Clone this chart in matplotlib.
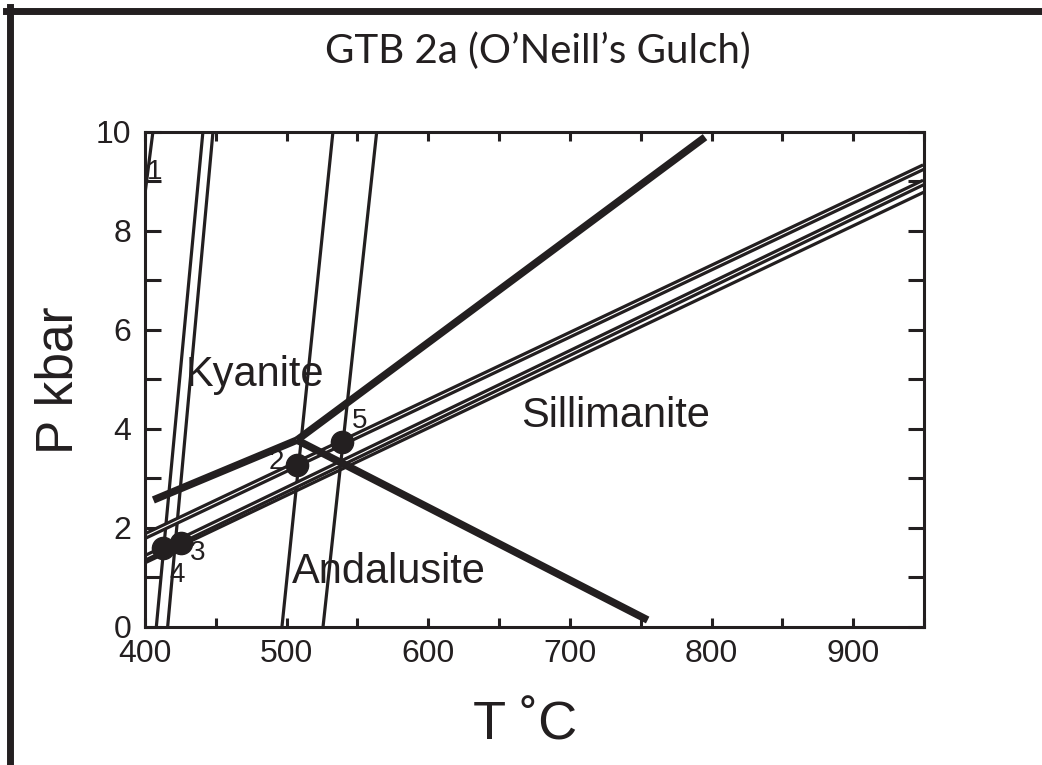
import matplotlib
matplotlib.use('Agg')
import matplotlib.pyplot as plt
from matplotlib.lines import Line2D
from matplotlib.ticker import MultipleLocator

INK = '#231f20'
SANS = ['Liberation Sans', 'DejaVu Sans']

# steep reactions: T (deg C) at P = 0 and P = 10 kbar
steep_P = [0.0, 10.0]
rA_T = [408.0, 440.9]
rB_T = [416.0, 448.0]
rC_T = [496.7, 532.7]
rD_T = [525.7, 563.6]

# reaction 1, cut by the left axis
r1_T = [400.0, 405.6]
r1_P = [8.75, 10.0]

# shallow reactions across the whole T range
flat_T = [400.0, 950.0]
rE_P = [1.83, 9.29]
rF_P = [1.39, 8.98]
rG_P = [1.29, 8.78]

# aluminosilicate triple point and its three boundaries
ky_and_T = [405.9, 507.3]
ky_and_P = [2.56, 3.77]
ky_sil_T = [507.3, 795.4]
ky_sil_P = [3.77, 9.89]
and_sil_T = [507.3, 754.9]
and_sil_P = [3.77, 0.135]

# intersection points
pt_T = [412.7, 425.4, 507.3, 539.1]
pt_P = [1.59, 1.69, 3.27, 3.73]

# reaction numbers
num_text = ['1', '2', '3', '4', '5']
num_T = [407.1, 493.0, 436.9, 422.8, 551.6]
num_P = [9.19, 3.33, 1.49, 1.04, 4.16]

# stability fields
field_names = ['Kyanite', 'Sillimanite', 'Andalusite']
field_T = [477.7, 732.5, 572.3]
field_P = [5.08, 4.26, 1.105]

fig = plt.figure(figsize=(10.42, 7.65), dpi=100)
ax = fig.add_axes([145 / 1042, 1 - 626.7 / 765, 779 / 1042, 495 / 765])

thin = dict(color=INK, lw=2.3, solid_capstyle='butt')
for t in (rA_T, rB_T, rC_T, rD_T):
    ax.plot(t, steep_P, **thin)
ax.plot(r1_T, r1_P, **thin)
ax.plot(flat_T, rG_P, **thin)

# double lines: black stroke with a hairline white core
for p in (rE_P, rF_P):
    ax.plot(flat_T, p, color=INK, lw=5.4, solid_capstyle='butt')
    ax.plot(flat_T, p, color='white', lw=0.8, solid_capstyle='butt')

thick = dict(color=INK, lw=5.4, solid_capstyle='butt')
ax.plot(ky_and_T, ky_and_P, **thick)
ax.plot(ky_sil_T, ky_sil_P, **thick)
ax.plot(and_sil_T, and_sil_P, **thick)

ax.plot(pt_T, pt_P, 'o', color=INK, ms=16, mec=INK, zorder=5)

for s, t, p in zip(num_text, num_T, num_P):
    ax.text(t, p, s, fontsize=20, family=SANS, color=INK,
            ha='center', va='center', zorder=6)
for s, t, p in zip(field_names, field_T, field_P):
    ax.text(t, p, s, fontsize=30, family=SANS, color=INK,
            ha='center', va='center', zorder=6)

ax.set_xlim(400, 950)
ax.set_ylim(0, 10)
ax.xaxis.set_major_locator(MultipleLocator(100))
ax.xaxis.set_minor_locator(MultipleLocator(50))
ax.yaxis.set_major_locator(MultipleLocator(2))
ax.yaxis.set_minor_locator(MultipleLocator(1))
ax.set_xticks([400, 500, 600, 700, 800, 900])
ax.tick_params(which='both', direction='in', top=True, right=True,
               width=2.2, color=INK, labelsize=23, labelcolor=INK)
ax.tick_params(axis='x', which='both', length=6.5, pad=9)
ax.tick_params(axis='y', which='both', length=11.5, pad=10)
for lab in ax.get_xticklabels() + ax.get_yticklabels():
    lab.set_family(SANS)
for sp in ax.spines.values():
    sp.set_linewidth(2.2)
    sp.set_color(INK)

fig.text(538 / 1042, 1 - 51 / 765, 'GTB 2a (O\u2019Neill\u2019s Gulch)',
         fontsize=29, family=['Lato', 'DejaVu Sans'], color=INK,
         ha='center', va='center')
fig.text(59 / 1042, 1 - 380 / 765, 'P kbar', rotation=90, fontsize=37,
         family=SANS, color=INK, ha='center', va='center')
fig.text(525 / 1042, 1 - 725 / 765, 'T \u02daC', fontsize=39,
         family=SANS, color=INK, ha='center', va='center')

# frame along the top and left edges
fig.add_artist(Line2D([6 / 1042, 1], [1 - 10.5 / 765] * 2,
                      transform=fig.transFigure, lw=5, color=INK))
fig.add_artist(Line2D([9.5 / 1042] * 2, [0, 1 - 7 / 765],
                      transform=fig.transFigure, lw=5, color=INK))

fig.savefig('out.png', dpi=100)
